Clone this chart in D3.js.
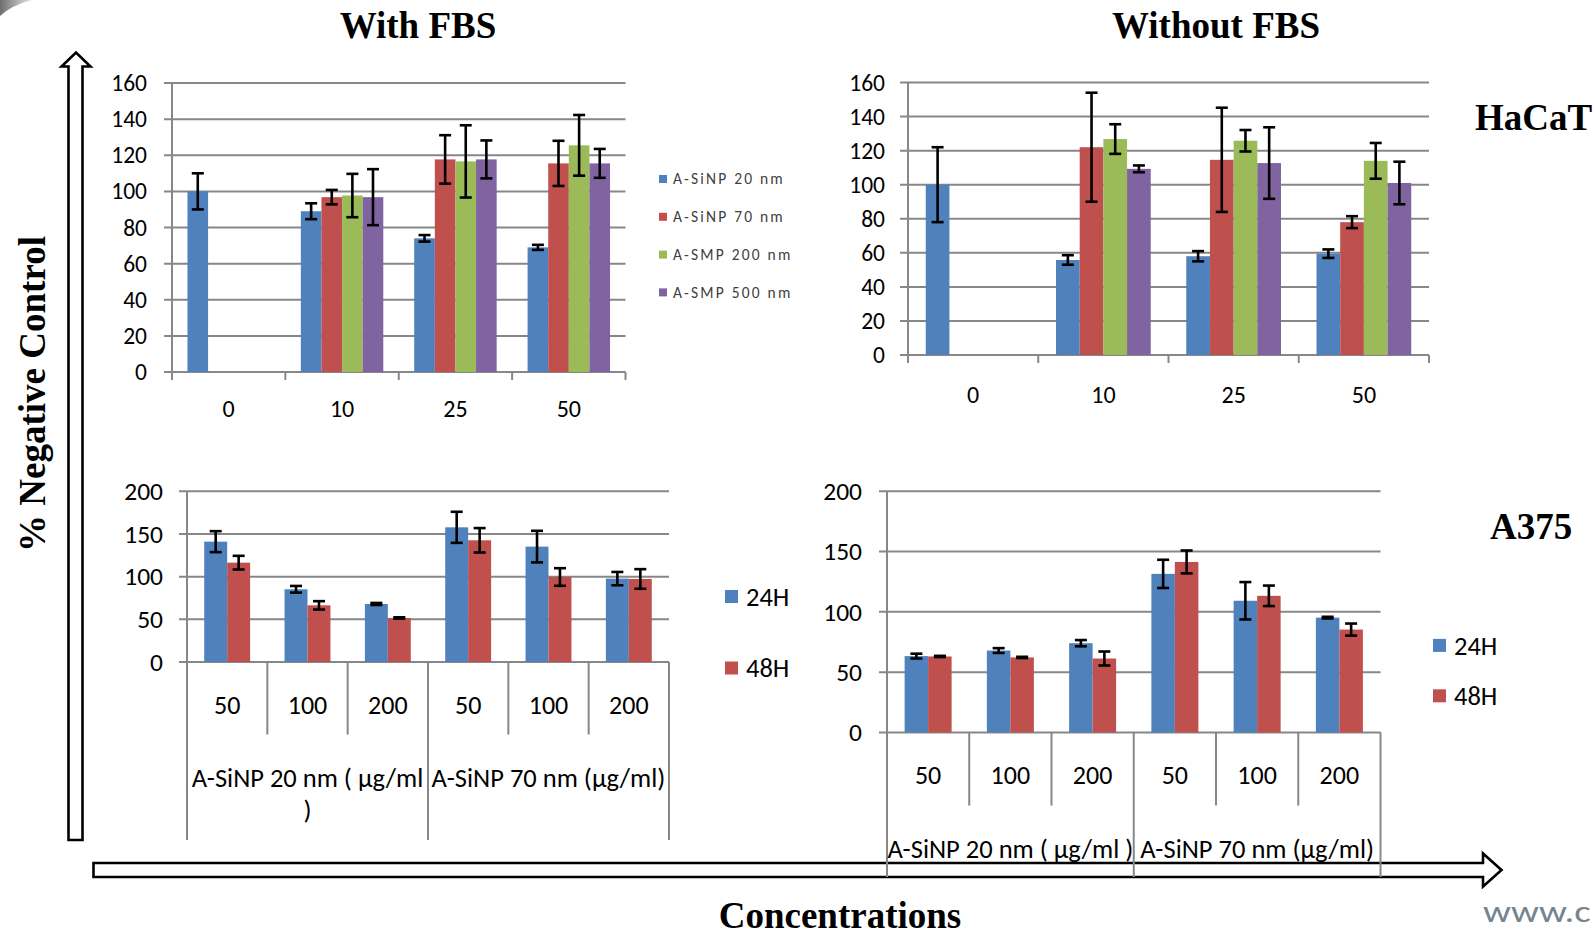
<!DOCTYPE html>
<html>
<head>
<meta charset="utf-8">
<script src="https://cdn.jsdelivr.net/npm/d3@7"></script>
<style>
  html, body { margin: 0; padding: 0; background: #fff; }
  svg { display: block; }
</style>
</head>
<body>
<svg id="fig" width="1595" height="935"></svg>
<script>
// ---------- HaCaT panels: % of negative control by concentration ----------
const topCategories = ["0", "10", "25", "50"];
const topSeries = ["A-SiNP 20 nm", "A-SiNP 70 nm", "A-SMP 200 nm", "A-SMP 500 nm"];
const topTicks = [0, 20, 40, 60, 80, 100, 120, 140, 160];

// With FBS (one row per series, one column per concentration)
const withFbsValues = [
  [100, 89, 74, 69],
  [null, 96.8, 117.7, 115.5],
  [null, 97.7, 116.6, 125.5],
  [null, 96.8, 117.7, 115.5]
];
const withFbsErrors = [
  [10, 4.4, 1.8, 1.4],
  [null, 4, 13.4, 12.5],
  [null, 12, 20, 16.8],
  [null, 15.5, 10.5, 8]
];

// Without FBS
const withoutFbsValues = [
  [100, 55.8, 58, 59.5],
  [null, 122, 114.6, 78],
  [null, 126.8, 125.8, 114],
  [null, 109.3, 112.7, 101]
];
const withoutFbsErrors = [
  [22, 2.8, 3, 2.5],
  [null, 32, 30.6, 3.5],
  [null, 8.7, 6.3, 10.5],
  [null, 2, 21, 12.5]
];

// ---------- A375 panels: 24 h / 48 h exposure ----------
const a375Concentrations = ["50", "100", "200"];
const a375Groups = ["A-SiNP 20 nm ( µg/ml )", "A-SiNP 70 nm (µg/ml)"];
const a375Series = ["24H", "48H"];
const a375Ticks = [0, 50, 100, 150, 200];

const a375WithFbs24h = [141, 85.2, 68, 157.8, 135.2, 97.7];
const a375WithFbs48h = [116.4, 66.4, 51.6, 142.6, 99.6, 97.3];
const a375WithFbsErr24h = [12.3, 3.9, 1.2, 18.2, 18.5, 7.8];
const a375WithFbsErr48h = [8, 4.9, 0.8, 14.3, 10.3, 11.5];

const a375WithoutFbs24h = [63.3, 67.9, 74, 131.5, 109.2, 95.2];
const a375WithoutFbs48h = [63, 62.2, 61.3, 141.4, 113.3, 85.3];
const a375WithoutFbsErr24h = [2, 2, 2.6, 11.7, 15.5, 0.7];
const a375WithoutFbsErr48h = [0.5, 0.5, 5.8, 9.5, 8.5, 5];

// ---------- styling ----------
const COLORS = ["#4F81BD", "#C0504D", "#9BBB59", "#8064A2"];
const GRID = "#878787";
const SANS = "Carlito, Lato, 'Open Sans', sans-serif";
const SERIF = "'Liberation Serif', 'DejaVu Serif', 'Times New Roman', serif";

const svg = d3.select("#fig");

// small gray swoosh in the top-left corner
const defs = svg.append("defs");
const sw = defs.append("linearGradient").attr("id", "swoosh").attr("x1", 0).attr("x2", 1);
sw.append("stop").attr("offset", 0).attr("stop-color", "#6e6e6e");
sw.append("stop").attr("offset", 1).attr("stop-color", "#e8e8e8");
svg.append("path").attr("d", "M0,0 L32,0 Q12,5 0,16 Z").attr("fill", "url(#swoosh)");

function drawErrorBar(g, cx, y, v, e) {
  if (v == null || e == null) return;
  const cap = 6;
  const top = y(v + e), bot = y(v - e);
  const p = g.append("g").attr("stroke", "#000").attr("stroke-width", 2.6).attr("fill", "none");
  p.append("line").attr("x1", cx).attr("x2", cx).attr("y1", top).attr("y2", bot);
  p.append("line").attr("x1", cx - cap).attr("x2", cx + cap).attr("y1", top).attr("y2", top);
  p.append("line").attr("x1", cx - cap).attr("x2", cx + cap).attr("y1", bot).attr("y2", bot);
}

function valueAxis(g, y, ticks, left, right, labelRight, fontSize) {
  g.append("g").selectAll("line").data(ticks).join("line")
    .attr("x1", left - 8).attr("x2", right)
    .attr("y1", d => y(d)).attr("y2", d => y(d))
    .attr("stroke", GRID).attr("stroke-width", 2);
  const ax = g.append("g").attr("transform", `translate(${labelRight},0)`)
    .call(d3.axisLeft(y).tickValues(ticks).tickSize(0).tickPadding(0));
  ax.select(".domain").remove();
  ax.selectAll("text").attr("font-family", SANS).attr("font-size", fontSize).attr("fill", "#000");
}

// ---------- HaCaT panel ----------
function hacatPanel(o) {
  const g = svg.append("g");
  const y = d3.scaleLinear().domain([0, 160]).range([o.bottom, o.top]);
  const x0 = d3.scaleBand().domain(topCategories).range([o.left, o.right]).padding(0);
  const x1 = d3.scaleBand().domain(topSeries).range([0, x0.bandwidth()])
    .paddingInner(0).paddingOuter(0.75);

  valueAxis(g, y, topTicks, o.left, o.right, o.labelRight, 23.5);

  // bars
  topSeries.forEach((s, si) => {
    g.append("g").selectAll("rect")
      .data(topCategories.map((c, ci) => ({ c, v: o.values[si][ci] })).filter(d => d.v != null))
      .join("rect")
      .attr("x", d => x0(d.c) + x1(s))
      .attr("y", d => y(d.v))
      .attr("width", x1.bandwidth())
      .attr("height", d => y(0) - y(d.v))
      .attr("fill", COLORS[si]);
  });
  // error bars
  topSeries.forEach((s, si) => {
    topCategories.forEach((c, ci) => {
      drawErrorBar(g, x0(c) + x1(s) + x1.bandwidth() / 2, y, o.values[si][ci], o.errors[si][ci]);
    });
  });

  // category axis: vertical axis line and boundary ticks
  const bounds = topCategories.map(c => x0(c)).concat([o.right]);
  g.append("g").selectAll("line").data(bounds).join("line")
    .attr("x1", d => d).attr("x2", d => d)
    .attr("y1", (d, i) => i === 0 ? y(160) : y(0)).attr("y2", y(0) + 8)
    .attr("stroke", GRID).attr("stroke-width", 2);

  const cx = g.append("g").attr("transform", `translate(0,${o.catLabelY})`)
    .call(d3.axisBottom(x0).tickSize(0).tickPadding(0));
  cx.select(".domain").remove();
  cx.selectAll("text").attr("font-family", SANS).attr("font-size", 24)
    .attr("fill", "#000").attr("dy", "0.35em").attr("y", 0);
  return g;
}

hacatPanel({ left: 172, right: 625.5, top: 83, bottom: 372, labelRight: 147,
  catLabelY: 409, values: withFbsValues, errors: withFbsErrors });
hacatPanel({ left: 908, right: 1429, top: 82.5, bottom: 355, labelRight: 885,
  catLabelY: 394.5, values: withoutFbsValues, errors: withoutFbsErrors });

// legend of the HaCaT panels
const lg = svg.append("g").attr("transform", "translate(659,179)");
topSeries.forEach((s, i) => {
  const row = lg.append("g").attr("transform", `translate(0,${i * 37.8})`);
  row.append("rect").attr("x", 0).attr("y", -4).attr("width", 8).attr("height", 8).attr("fill", COLORS[i]);
  row.append("text").attr("x", 14).attr("dy", "0.35em").attr("font-family", SANS)
    .attr("font-size", 15.5).attr("letter-spacing", 2.2).attr("fill", "#404040").text(s);
});

// ---------- A375 panel ----------
// break a label into lines that fit maxWidth; first line keeps the vertical centring offset
function wrapText(textSel, maxWidth, lineHeight) {
  textSel.each(function () {
    const t = d3.select(this);
    const words = t.text().split(" ");
    t.text(null);
    let line = [];
    let ts = t.append("tspan").attr("x", t.attr("x")).attr("dy", "0.35em");
    words.forEach(w => {
      line.push(w);
      ts.text(line.join(" "));
      if (ts.node().getComputedTextLength() > maxWidth && line.length > 1) {
        line.pop();
        ts.text(line.join(" "));
        line = [w];
        ts = t.append("tspan").attr("x", t.attr("x")).attr("dy", lineHeight).text(w);
      }
    });
  });
}

function a375Panel(o) {
  const g = svg.append("g");
  const cells = d3.range(a375Groups.length * a375Concentrations.length);
  const y = d3.scaleLinear().domain([0, 200]).range([o.bottom, o.top]);
  const x0 = d3.scaleBand().domain(cells).range([o.left, o.right]).padding(0);
  const x1 = d3.scaleBand().domain(a375Series).range([0, x0.bandwidth()])
    .paddingInner(0).paddingOuter(0.75);

  valueAxis(g, y, a375Ticks, o.left, o.right, o.labelRight, 25.5);

  const series = [o.v24, o.v48];
  const errs = [o.e24, o.e48];
  a375Series.forEach((s, si) => {
    g.append("g").selectAll("rect").data(cells).join("rect")
      .attr("x", c => x0(c) + x1(s))
      .attr("y", c => y(series[si][c]))
      .attr("width", x1.bandwidth())
      .attr("height", c => y(0) - y(series[si][c]))
      .attr("fill", COLORS[si]);
  });
  a375Series.forEach((s, si) => {
    cells.forEach(c => drawErrorBar(g, x0(c) + x1(s) + x1.bandwidth() / 2, y, series[si][c], errs[si][c]));
  });

  // vertical axis line
  g.append("line").attr("x1", o.left).attr("x2", o.left).attr("y1", y(200)).attr("y2", y(0))
    .attr("stroke", GRID).attr("stroke-width", 2);

  // two-level category axis: cell boundaries and group boundaries
  const nC = a375Concentrations.length;
  const bounds = cells.map(c => x0(c)).concat([o.right]);
  g.append("g").selectAll("line").data(bounds).join("line")
    .attr("x1", d => d).attr("x2", d => d)
    .attr("y1", y(0))
    .attr("y2", (d, i) => i % nC === 0 ? o.groupBottom : o.innerBottom)
    .attr("stroke", GRID).attr("stroke-width", 2);

  g.append("g").selectAll("text").data(cells).join("text")
    .attr("x", c => x0(c) + x0.bandwidth() / 2).attr("y", o.concLabelY).attr("dy", "0.35em")
    .attr("text-anchor", "middle").attr("font-family", SANS).attr("font-size", 26)
    .text(c => a375Concentrations[c % nC]);

  const groupW = x0.bandwidth() * nC;
  g.append("g").selectAll("text").data(a375Groups).join("text")
    .attr("x", (d, i) => o.left + groupW * (i + 0.5)).attr("y", o.groupLabelY)
    .attr("text-anchor", "middle").attr("font-family", SANS).attr("font-size", 26.5)
    .text(d => d)
    .call(wrapText, o.wrapWidth, 32);

  // legend
  const lg = g.append("g").attr("transform", `translate(${o.legendX},${o.legendY})`);
  a375Series.forEach((s, i) => {
    const row = lg.append("g").attr("transform", `translate(0,${i * o.legendStep})`);
    row.append("rect").attr("x", 0).attr("y", -6.5).attr("width", 13).attr("height", 13).attr("fill", COLORS[i]);
    row.append("text").attr("x", 21).attr("dy", "0.35em").attr("font-family", SANS)
      .attr("font-size", 26.5).text(s);
  });
}

// ---------- axis arrows ----------
const arrowStyle = (sel, fill) => sel.attr("fill", fill).attr("stroke", "#000").attr("stroke-width", 2.6)
  .attr("stroke-linejoin", "miter");
svg.append("path")
  .attr("d", "M68.5,840 L68.5,66.5 L61.5,66.5 L76,52.5 L90.5,66.5 L82.5,66.5 L82.5,840 Z")
  .call(arrowStyle, "#fff");
svg.append("path")
  .attr("d", "M93.5,863 L1483,863 L1483,853.5 L1501.5,870 L1483,886.5 L1483,877 L93.5,877 Z")
  .call(arrowStyle, "none");

a375Panel({ left: 187, right: 669, top: 491.3, bottom: 662, labelRight: 163,
  innerBottom: 734.5, groupBottom: 840, concLabelY: 705, groupLabelY: 778, wrapWidth: 238,
  v24: a375WithFbs24h, v48: a375WithFbs48h, e24: a375WithFbsErr24h, e48: a375WithFbsErr48h,
  legendX: 725, legendY: 596.5, legendStep: 71.5 });
a375Panel({ left: 887, right: 1380.5, top: 491.3, bottom: 732.4, labelRight: 862,
  innerBottom: 805.6, groupBottom: 877, concLabelY: 775, groupLabelY: 848.5, wrapWidth: 262,
  v24: a375WithoutFbs24h, v48: a375WithoutFbs48h, e24: a375WithoutFbsErr24h, e48: a375WithoutFbsErr48h,
  legendX: 1433, legendY: 645.4, legendStep: 50.4 });

// ---------- titles ----------
const title = (x, y, txt, anchor) => svg.append("text").attr("x", x).attr("y", y)
  .attr("text-anchor", anchor).attr("font-family", SERIF).attr("font-weight", "bold")
  .attr("font-size", 37).attr("fill", "#000").text(txt);
title(418, 37.5, "With FBS", "middle");
title(1216, 37.5, "Without FBS", "middle");
title(1475, 130, "HaCaT", "start");
title(1490, 539, "A375", "start");
title(840, 928, "Concentrations", "middle");
svg.append("text").attr("transform", "translate(45,394) rotate(-90)")
  .attr("text-anchor", "middle").attr("font-family", SERIF).attr("font-weight", "bold")
  .attr("font-size", 37).text("% Negative Control");

// partial web address at the lower right edge
svg.append("text").attr("x", 1483).attr("y", 922).attr("font-family", SANS)
  .attr("font-size", 30).attr("fill", "#75848f")
  .attr("transform", "translate(1483,0) scale(1.3,1) translate(-1483,0)")
  .text("www.c");
</script>
</body>
</html>
